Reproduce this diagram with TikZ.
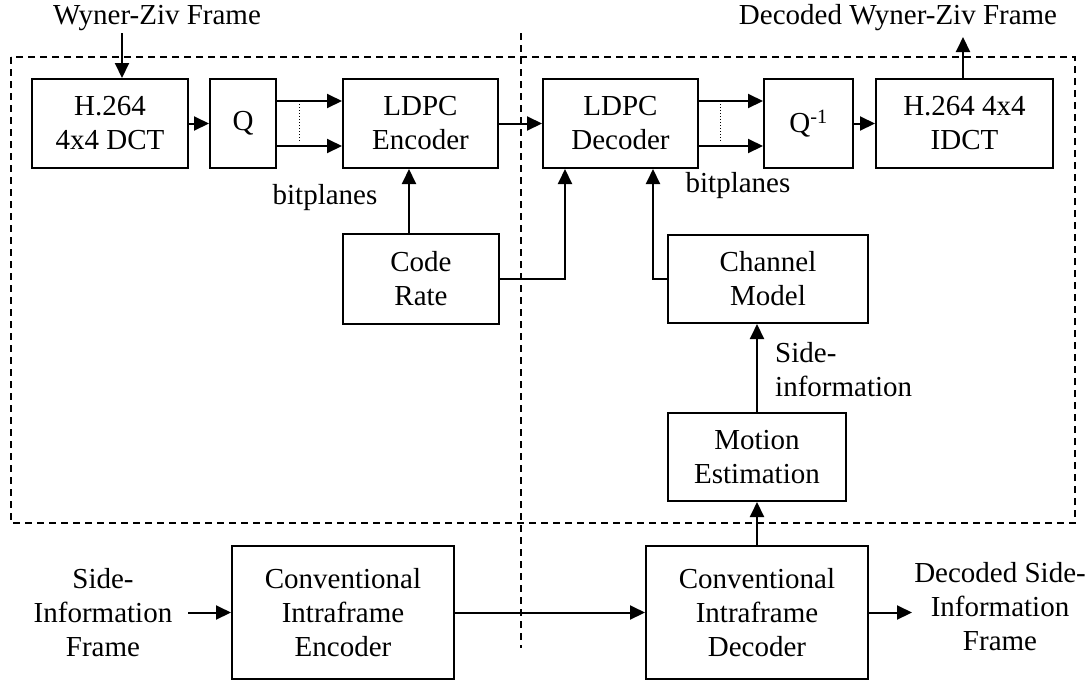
\documentclass[tikz,border=0pt]{standalone}
\usepackage{fontspec}
\setmainfont{Liberation Serif}
\usetikzlibrary{arrows.meta}
\tikzset{
  blk/.style={draw, line width=2pt, inner sep=0pt, align=center, font=\fontsize{29}{34}\selectfont},
  lbl/.style={inner sep=0pt, font=\fontsize{29}{34}\selectfont},
  arr/.style={line width=2pt, -{Triangle[length=15pt,width=14pt]}},
  dsh/.style={line width=1.5pt, dash pattern=on 7pt off 5pt},
  dts/.style={line width=1pt, dotted},
}
\begin{document}
\begin{tikzpicture}[x=1pt,y=-1pt]
\useasboundingbox (0,0) rectangle (1091,681);
% dashed frames
\draw[dsh] (11,57) rectangle (1075,523);
\draw[dsh] (521,33) -- (521,648);
% boxes
\node[blk, minimum width=156pt, minimum height=89pt] (dct) at (110,123.5) {H.264\\4x4 DCT};
\node[blk, minimum width=66pt, minimum height=89pt] (q) at (243,123.5) {Q};
\node[blk, minimum width=155pt, minimum height=89pt] (enc) at (420.5,123.5) {LDPC\\Encoder};
\node[blk, minimum width=155pt, minimum height=89pt] (dec) at (620.5,123.5) {LDPC\\Decoder};
\node[blk, minimum width=89pt, minimum height=89pt] (qi) at (808.5,123.5) {Q\textsuperscript{-1}};
\node[blk, minimum width=177pt, minimum height=89pt] (idct) at (964.5,123.5) {H.264 4x4\\IDCT};
\node[blk, minimum width=156pt, minimum height=90pt] (rate) at (421,279) {Code\\Rate};
\node[blk, minimum width=200pt, minimum height=88pt] (chan) at (768,279) {Channel\\Model};
\node[blk, minimum width=178pt, minimum height=88pt] (me) at (757,457) {Motion\\Estimation};
\node[blk, minimum width=222pt, minimum height=133pt] (cenc) at (343,612.5) {Conventional\\Intraframe\\Encoder};
\node[blk, minimum width=222pt, minimum height=133pt] (cdec) at (757,612.5) {Conventional\\Intraframe\\Decoder};
% labels
\node[lbl] (wzlbl) at (157,18) {Wyner-Ziv Frame};
\node[lbl] (dwzlbl) at (898,18) {Decoded Wyner-Ziv Frame};
\node[lbl] (bp1) at (325,198) {bitplanes};
\node[lbl] (bp2) at (738,186) {bitplanes};
\node[lbl, align=left, anchor=west] (silbl) at (775,370) {Side-\\information};
\node[lbl, align=center] (sif) at (103,613) {Side-\\Information\\Frame};
\node[lbl, align=center] (dsif) at (1000,607) {Decoded Side-\\Information\\Frame};
% free ends
\coordinate (wzin) at (122,33);
\coordinate (wzout) at (963,37);
\coordinate (sifin) at (188,612.5);
\coordinate (dsifout) at (912,612.5);
% connectors
\draw[arr] (wzin) -- (wzin |- dct.north);
\draw[arr] (dct) -- (q);
\draw[arr] ([yshift=22.5pt]q.east) -- ([yshift=22.5pt]enc.west);
\draw[arr] ([yshift=-22.5pt]q.east) -- ([yshift=-22.5pt]enc.west);
\draw[dts] (299,104) -- (299,143);
\draw[arr] (enc) -- (dec);
\draw[arr] ([yshift=22.5pt]dec.east) -- ([yshift=22.5pt]qi.west);
\draw[arr] ([yshift=-22.5pt]dec.east) -- ([yshift=-22.5pt]qi.west);
\draw[dts] (720,104) -- (720,143);
\draw[arr] (qi) -- (idct);
\draw[arr] (idct.north -| wzout) -- (wzout);
\draw[arr] ([xshift=-12pt]rate.north) -- ([xshift=-12pt]rate.north |- enc.south);
\draw[arr] (rate.east) -| ([xshift=-55.5pt]dec.south);
\draw[arr] (chan.west) -| ([xshift=32.5pt]dec.south);
\draw[arr] (me.north) -- (me.north |- chan.south);
\draw[arr] (cdec.north) -- (me.south);
\draw[arr] (sifin) -- (cenc.west);
\draw[arr] (cenc) -- (cdec);
\draw[arr] (cdec.east) -- (dsifout);
\end{tikzpicture}
\end{document}
